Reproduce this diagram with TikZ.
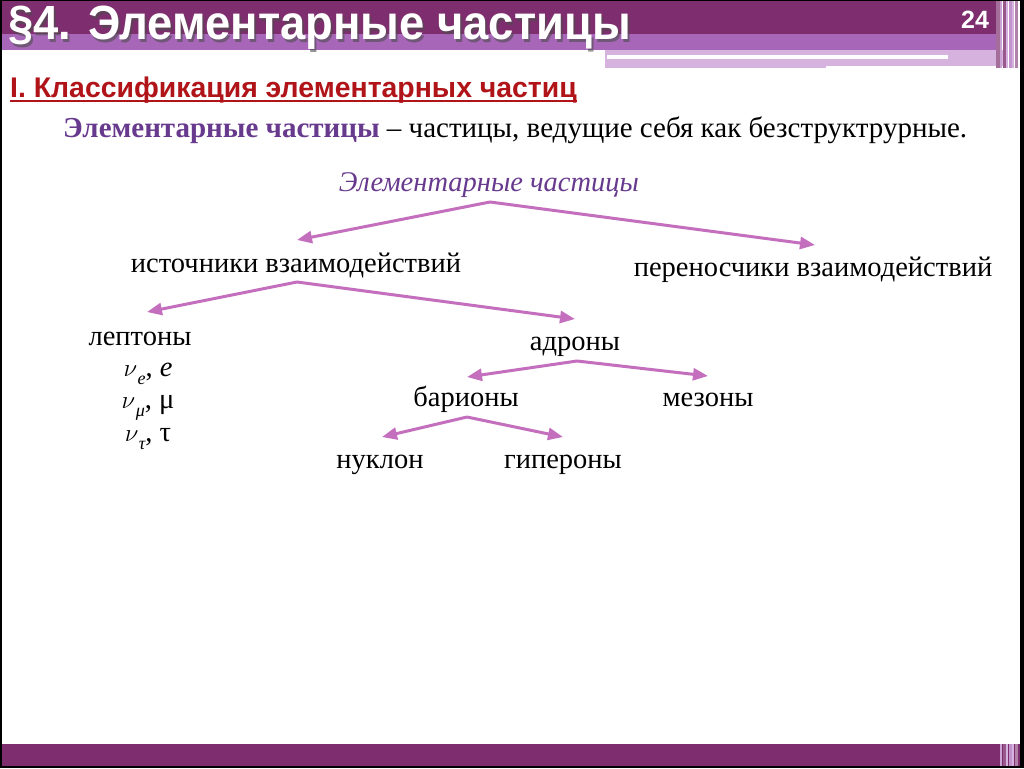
\documentclass[tikz,border=0pt]{standalone}
\usepackage{fontspec}
\setmainfont{Liberation Serif}
\newfontfamily\arialfont{Liberation Sans}
\usetikzlibrary{arrows.meta}
\definecolor{hdark}{RGB}{126,46,110}
\definecolor{hmid}{RGB}{168,102,184}
\definecolor{hlight}{RGB}{214,178,222}
\definecolor{subred}{RGB}{176,20,24}
\definecolor{defpurple}{RGB}{104,58,142}
\definecolor{arrcol}{RGB}{196,110,190}
\newcommand{\nusub}[1]{$\nu$\kern0.5pt\raisebox{-0.3em}{\fontsize{18}{18}\selectfont\itshape #1}}
\tikzset{
  lbl/.style={anchor=base, inner sep=0pt, font=\fontsize{28.5}{32}\selectfont},
  arr/.style={draw=arrcol, line width=3pt, -{Triangle[length=15pt,width=12pt]}},
  titlefont/.style={font=\arialfont\bfseries\fontsize{48}{48}\selectfont, xscale=0.945},
}
\begin{document}
\begin{tikzpicture}[x=1pt,y=-1pt]
\useasboundingbox (0,0) rectangle (1024,768);
\fill[white] (0,0) rectangle (1024,768);
% header bands
\fill[hdark] (0,0) rectangle (996,34);
\fill[hmid] (0,34) rectangle (996,50);
\fill[hlight] (605,50) rectangle (1004,68);
\fill[white] (607,55.5) rectangle (948,59);
\fill[white] (826,66) rectangle (1004,68);
% right stripes (header)
\foreach \xa/\w/\c in {996/4/hdark!70!white,1000/2/hmid!60!white,1003/3/hdark!80!white,1006/2/hlight,1009/3/hmid!70!white,1012/2/hlight,1015/3/hdark!60!white}{
  \fill[\c] (\xa,0) rectangle ++(\w,68);
}
% footer
\fill[hdark] (0,744) rectangle (1024,766);
\foreach \xa/\w/\c in {1000/2/hmid!60!white,1003/3/hdark!80!white,1006/2/hlight,1009/3/hmid!70!white,1012/2/hlight,1015/3/hdark!60!white}{
  \fill[\c] (\xa,744) rectangle ++(\w,22);
}
\fill[black] (0,766) rectangle (1024,768);
\fill[black] (0,0) rectangle (1024,1.5);
\fill[black] (0,0) rectangle (2,768);
\fill[black] (1020,0) rectangle (1024,768);
% title
\node[anchor=base west, inner sep=0pt, titlefont, text=black!70, opacity=0.6] (titleshadow) at (10,42) {§4. Элементарные частицы};
\node[anchor=base west, inner sep=0pt, titlefont, text=white] (title) at (8,40) {§4. Элементарные частицы};
\node[anchor=base west, inner sep=0pt, font=\arialfont\bfseries\fontsize{25}{25}\selectfont, text=white] (num) at (961,29) {24};
% subheading
\node[anchor=base west, inner sep=0pt, font=\arialfont\bfseries\fontsize{28.4}{28}\selectfont, text=subred] (sub) at (10,97) {I. Классификация элементарных частиц};
\draw[subred, line width=2pt] (sub.base west) ++(0,3.5) -- ([yshift=-3.5pt]sub.base east);
% definition
\node[anchor=base west, inner sep=0pt, font=\fontsize{29}{32}\selectfont] (def) at (63,137) {{\color{defpurple}\bfseries Элементарные частицы} – частицы, ведущие себя как безструктрурные.};
% tree
\node[anchor=base, inner sep=0pt, font=\itshape\fontsize{28.5}{32}\selectfont, text=defpurple] (root) at (489,191) {Элементарные частицы};
\node[lbl] (ist) at (296,272) {источники взаимодействий};
\node[lbl] (per) at (813,276) {переносчики взаимодействий};
\node[lbl] (lep) at (140,345) {лептоны};
\node[lbl] (l1) at (148,376) {\nusub{e}, {\itshape e}};
\node[lbl] (l2) at (148,408) {\nusub{μ}, μ};
\node[lbl] (l3) at (148,441) {\nusub{τ}, τ};
\node[lbl] (adr) at (575,350) {адроны};
\node[lbl] (bar) at (466,406) {барионы};
\node[lbl] (mez) at (708,406) {мезоны};
\node[lbl] (nuk) at (380,468) {нуклон};
\node[lbl] (gip) at (563,468) {гипероны};
% connector points
\coordinate (r0) at (490,202);
\coordinate (t0a) at (297,240);
\coordinate (t0b) at (815,245);
\coordinate (r1) at (297,282);
\coordinate (t1a) at (147,312);
\coordinate (t1b) at (575,319);
\coordinate (r2) at (577,361);
\coordinate (t2a) at (467,377);
\coordinate (t2b) at (708,376);
\coordinate (r3) at (467,417);
\coordinate (t3a) at (382,437);
\coordinate (t3b) at (563,437);
\draw[arr] (r0) -- (t0a);
\draw[arr] (r0) -- (t0b);
\draw[arr] (r1) -- (t1a);
\draw[arr] (r1) -- (t1b);
\draw[arr] (r2) -- (t2a);
\draw[arr] (r2) -- (t2b);
\draw[arr] (r3) -- (t3a);
\draw[arr] (r3) -- (t3b);
\end{tikzpicture}
\end{document}
